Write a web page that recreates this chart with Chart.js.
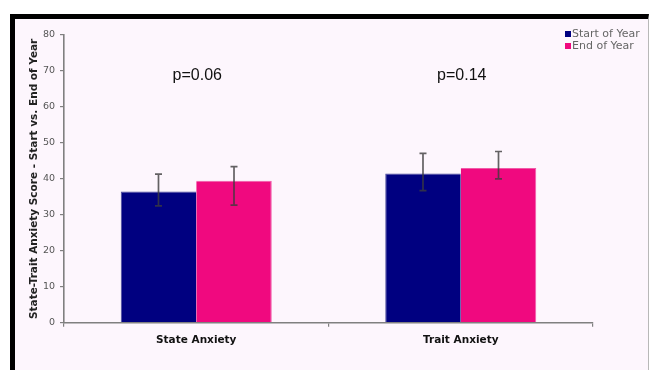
<!DOCTYPE html>
<html>
<head>
<meta charset="utf-8">
<script src="https://cdn.jsdelivr.net/npm/chart.js@4.4.1/dist/chart.umd.min.js"></script>
<style>
  html, body { margin: 0; padding: 0; background: #ffffff; }
  body { width: 649px; height: 370px; position: relative; overflow: hidden; }
  #frame {
    position: absolute; left: 10px; top: 14px;
    width: 633px; height: 351px;
    border-left: 5px solid #000; border-top: 5px solid #000;
    border-right: 1px solid #b8b8b8;
    background: #fdf6fd;
  }
  #wrap { position: absolute; left: 0; top: 0; width: 649px; height: 370px; }
</style>
</head>
<body>
<div id="frame"></div>
<div id="wrap"><canvas id="chart" width="649" height="370"></canvas></div>
<script>
// Anxiety scores at the start and end of the school year
const categories = ['State Anxiety', 'Trait Anxiety'];
const seriesNames = ['Start of Year', 'End of Year'];
const startOfYear = [36.5, 41.5];
const endOfYear = [39.5, 43.0];
// error bar extents (lower / upper) per series
const startLow = [32.5, 36.7];
const startHigh = [41.3, 47.1];
const endLow = [32.7, 40.0];
const endHigh = [43.4, 47.6];
// significance labels shown above each category
const pLabels = ['p=0.06', 'p=0.14'];
const yTicks = [0, 10, 20, 30, 40, 50, 60, 70, 80];

const NAVY = '#000080';
const PINK = '#f0097f';

const errorBars = {
  id: 'errorBars',
  afterDatasetsDraw(chart) {
    const ctx = chart.ctx;
    const y = chart.scales.y;
    const ranges = [[startLow, startHigh], [endLow, endHigh]];
    ctx.save();
    ctx.strokeStyle = 'rgba(60,60,60,0.8)';
    ctx.lineWidth = 1.7;
    chart.data.datasets.forEach((ds, di) => {
      const meta = chart.getDatasetMeta(di);
      meta.data.forEach((bar, i) => {
        const x = bar.x;
        const yl = y.getPixelForValue(ranges[di][0][i]);
        const yh = y.getPixelForValue(ranges[di][1][i]);
        ctx.beginPath();
        ctx.moveTo(x, yl); ctx.lineTo(x, yh);
        ctx.moveTo(x - 3.5, yh); ctx.lineTo(x + 3.5, yh);
        ctx.moveTo(x - 3.5, yl); ctx.lineTo(x + 3.5, yl);
        ctx.stroke();
      });
    });
    ctx.restore();
  }
};

const annotations = {
  id: 'annotations',
  afterDraw(chart) {
    const ctx = chart.ctx;
    const x = chart.scales.x;
    const area = chart.chartArea;
    ctx.save();
    // p-values
    ctx.font = '16px "Liberation Sans", Arial, sans-serif';
    ctx.fillStyle = '#111';
    ctx.textAlign = 'center';
    ctx.textBaseline = 'middle';
    pLabels.forEach((t, i) => {
      ctx.fillText(t, x.getPixelForValue(i) + 1, area.top + 41);
    });
    // legend
    const colors = [NAVY, PINK];
    ctx.font = '11px "DejaVu Sans", Verdana, sans-serif';
    ctx.textAlign = 'left';
    seriesNames.forEach((name, i) => {
      const ly = 34 + i * 12;
      ctx.fillStyle = colors[i];
      ctx.fillRect(565, ly - 3, 6, 6);
      ctx.fillStyle = '#666';
      ctx.fillText(name, 572, ly);
    });
    ctx.restore();
  }
};

new Chart(document.getElementById('chart'), {
  type: 'bar',
  data: {
    labels: categories,
    datasets: [
      { label: seriesNames[0], data: startOfYear, backgroundColor: NAVY,
        borderColor: '#4a4a9a', borderWidth: { top: 1, left: 1, right: 0, bottom: 0 } },
      { label: seriesNames[1], data: endOfYear, backgroundColor: PINK,
        borderColor: '#f05aa8', borderWidth: { top: 1, left: 0, right: 1, bottom: 0 } }
    ]
  },
  options: {
    responsive: false,
    animation: false,
    devicePixelRatio: 1,
    layout: { padding: { left: 16, top: 35, right: 56, bottom: 0 } },
    datasets: { bar: { categoryPercentage: 0.571, barPercentage: 1.0 } },
    plugins: {
      legend: { display: false },
      tooltip: { enabled: false }
    },
    scales: {
      x: {
        offset: true,
        grid: { display: true, offset: true, drawOnChartArea: false, drawTicks: true,
                tickLength: 4, color: '#808080', lineWidth: 1.2 },
        border: { display: true, color: '#808080', width: 1.6 },
        ticks: { color: '#111', padding: 7,
                 font: { family: '"DejaVu Sans", Verdana, sans-serif', size: 10.5, weight: 'bold' } },
        afterFit(s) { s.height = 47.3; }
      },
      y: {
        min: 0, max: 80,
        afterBuildTicks(s) { s.ticks = yTicks.map(v => ({ value: v })); },
        grid: { display: true, drawOnChartArea: false, drawTicks: true,
                tickLength: 4, color: '#808080', lineWidth: 1.2 },
        border: { display: true, color: '#808080', width: 1.6 },
        ticks: { color: '#555', padding: 5,
                 font: { family: '"DejaVu Sans", Verdana, sans-serif', size: 9.5 } },
        title: {
          display: true,
          text: 'State-Trait Anxiety Score - Start vs. End of Year',
          color: '#222',
          padding: { top: 12, bottom: 0 },
          font: { family: '"DejaVu Sans", Verdana, sans-serif', size: 10.5, weight: 'bold' }
        },
        afterFit(s) { s.width = 48; }
      }
    }
  },
  plugins: [errorBars, annotations]
});
</script>
</body>
</html>
